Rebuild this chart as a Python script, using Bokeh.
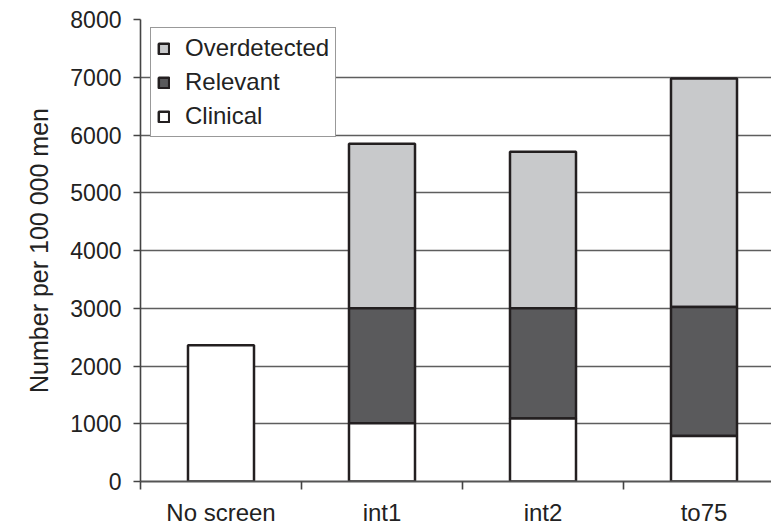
import numpy as np
from bokeh.plotting import figure
from bokeh.models import Range1d, FixedTicker, Legend, LegendItem, ColumnDataSource
from bokeh.embed import file_html
from bokeh.resources import INLINE

# ---- data ----
categories = ["No screen", "int1", "int2", "to75"]
clinical = [2360, 1010, 1090, 790]
relevant = [0, 1990, 1910, 2230]
overdetected = [0, 2850, 2710, 3960]
y_ticks = [0, 1000, 2000, 3000, 4000, 5000, 6000, 7000, 8000]

FONT = "Liberation Sans"
TXT = "#222222"
EDGE = "#231f20"

x = np.arange(len(categories)) + 0.5
c = np.array(clinical, dtype=float)
r = np.array(relevant, dtype=float)
o = np.array(overdetected, dtype=float)

src = ColumnDataSource(dict(
    x=x,
    c0=np.zeros_like(c), c1=c,
    r0=c, r1=c + r,
    o0=c + r, o1=c + r + o,
))

p = figure(width=771, height=528, output_backend="svg", toolbar_location=None,
           x_range=Range1d(0, 631 / 161), y_range=Range1d(0, 8000),
           min_border_left=140, min_border_right=0, min_border_top=19,
           min_border_bottom=45, background_fill_color="white",
           border_fill_color="white")
p.outline_line_color = None

w = 0.41
r_o = p.vbar(x="x", bottom="o0", top="o1", width=w, source=src,
             fill_color="#c8c9cb", line_color=EDGE, line_width=2.5)
r_r = p.vbar(x="x", bottom="r0", top="r1", width=w, source=src,
             fill_color="#5a5a5c", line_color=EDGE, line_width=2.5)
r_c = p.vbar(x="x", bottom="c0", top="c1", width=w, source=src,
             fill_color="white", line_color=EDGE, line_width=2.5)

# grid
p.xgrid.grid_line_color = None
p.ygrid.ticker = FixedTicker(ticks=y_ticks)
p.ygrid.grid_line_color = "#5e5e5e"
p.ygrid.grid_line_width = 1.6
p.ygrid.level = "underlay"

# y axis
p.yaxis.ticker = FixedTicker(ticks=y_ticks)
p.yaxis.axis_label = "Number per 100 000 men"
p.yaxis.axis_label_text_font = FONT
p.yaxis.axis_label_text_font_size = "25px"
p.yaxis.axis_label_text_font_style = "normal"
p.yaxis.axis_label_text_color = TXT
p.yaxis.axis_label_standoff = 14
p.yaxis.major_label_text_font = FONT
p.yaxis.major_label_text_font_size = "23px"
p.yaxis.major_label_text_color = TXT
p.yaxis.major_label_standoff = 12
p.yaxis.major_tick_out = 7
p.yaxis.major_tick_in = 0
p.yaxis.minor_tick_out = 0
p.yaxis.minor_tick_in = 0
p.yaxis.axis_line_color = "#444444"
p.yaxis.axis_line_width = 1.6
p.yaxis.major_tick_line_color = "#444444"
p.yaxis.major_tick_line_width = 1.6

# x axis: labels at category centres, ticks at boundaries
p.xaxis.ticker = FixedTicker(ticks=list(x), minor_ticks=list(range(len(categories))))
p.xaxis.major_label_overrides = {float(xx): cat for xx, cat in zip(x, categories)}
p.xaxis.major_label_text_font = FONT
p.xaxis.major_label_text_font_size = "24px"
p.xaxis.major_label_text_color = TXT
p.xaxis.major_label_standoff = 9
p.xaxis.major_tick_out = 0
p.xaxis.major_tick_in = 0
p.xaxis.minor_tick_out = 8
p.xaxis.minor_tick_in = 0
p.xaxis.minor_tick_line_color = "#444444"
p.xaxis.minor_tick_line_width = 1.6
p.xaxis.axis_line_color = "#555555"
p.xaxis.axis_line_width = 1.8

legend = Legend(items=[
    LegendItem(label="Overdetected", renderers=[r_o]),
    LegendItem(label="Relevant", renderers=[r_r]),
    LegendItem(label="Clinical", renderers=[r_c]),
], location=(10, 344))
legend.label_text_font = FONT
legend.label_text_font_size = "24px"
legend.label_text_color = TXT
legend.glyph_width = 13
legend.glyph_height = 13
legend.label_standoff = 15
legend.padding = 6
legend.spacing = 6
legend.border_line_color = "#333333"
legend.border_line_width = 1.6
legend.background_fill_color = "white"
legend.background_fill_alpha = 1
p.add_layout(legend)

open("out.html", "w").write(file_html(p, INLINE))
